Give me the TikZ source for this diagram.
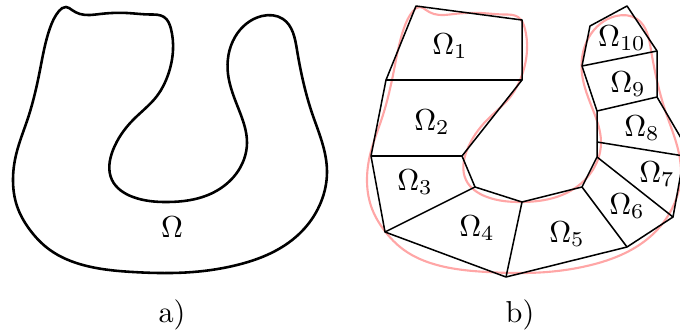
\documentclass[tikz,border=0pt]{standalone}
\usetikzlibrary{hobby}
\begin{document}
\begin{tikzpicture}[x=0.33pt,y=-0.33pt,
  blobline/.style={line width=0.85pt},
  pinkline/.style={line width=0.7pt,draw=red!35},
  edge/.style={line width=0.5pt,line join=round},
  lbl/.style={inner sep=0pt}]
\tikzset{blob/.pic={\draw[pic actions] plot[closed hobby] coordinates{
(66,7) (72,10) (80,14) (100,14) (127,13) (150,14.5) (164,17) (171,29) (173,50) (168,75) (157,96) (133,120) (113,150) (112,180) (133,197) (168,202) (208,195) (236,174) (247,143) (239,110) (228,74) (235,37) (262,16) (283,19) (297,50) (304,85) (312,113) (322,142) (327,172) (321,202) (304,229) (277,250) (237,265) (193,272) (160,273) (133,272) (83,265) (50,250) (30,230) (17,206) (13,180) (16,155) (28,118) (40,70) (50,28) (59,11)};}}
\useasboundingbox (0,0) rectangle (680,334);
\clip (0,0) rectangle (680,334);
% a)
\pic[blobline] at (0,0) {blob};
\node[lbl] (om) at (172,227) {$\Omega$};
\node[lbl] (la) at (172,315) {a)};
% b)
\pic[pinkline] at (354,0) {blob};
\coordinate (p1) at (416,6);
\coordinate (p2) at (522,20);
\coordinate (p3) at (522,80);
\coordinate (p4) at (386,80);
\coordinate (p5) at (462,156);
\coordinate (p6) at (371,156);
\coordinate (p7) at (475,187);
\coordinate (p8) at (385,232);
\coordinate (p9) at (522,202);
\coordinate (p10) at (506,277);
\coordinate (p11) at (582,187);
\coordinate (p12) at (627,247);
\coordinate (p13) at (597,157);
\coordinate (p14) at (673,217);
\coordinate (p15) at (597,142);
\coordinate (p16) at (684,156);
\coordinate (p17) at (597,111);
\coordinate (p18) at (657,97);
\coordinate (p19) at (582,66);
\coordinate (p20) at (657,51);
\coordinate (p21) at (590,26);
\coordinate (p22) at (627,6);
\coordinate (p23) at (688,150);
\draw[edge] (p4) -- (p1) -- (p2) -- (p3) -- (p4) -- (p6) -- (p8) -- (p10) -- (p12) -- (p14) -- (p16);
\draw[edge] (p3) -- (p5) -- (p6);
\draw[edge] (p5) -- (p7) -- (p9) -- (p11) -- (p13) -- (p15) -- (p17) -- (p19) -- (p21) -- (p22) -- (p20) -- (p18) -- (p23);
\draw[edge] (p7) -- (p8);
\draw[edge] (p9) -- (p10);
\draw[edge] (p11) -- (p12);
\draw[edge] (p13) -- (p14);
\draw[edge] (p15) -- (p16);
\draw[edge] (p17) -- (p18);
\draw[edge] (p19) -- (p20);
\node[lbl] (o1) at (450,46) {$\Omega_1$};
\node[lbl] (o2) at (432,122) {$\Omega_2$};
\node[lbl] (o3) at (415,182) {$\Omega_3$};
\node[lbl] (o4) at (477,228) {$\Omega_4$};
\node[lbl] (o5) at (567,234) {$\Omega_5$};
\node[lbl] (o6) at (627,206) {$\Omega_6$};
\node[lbl] (o7) at (657,174) {$\Omega_7$};
\node[lbl] (o8) at (642,128) {$\Omega_8$};
\node[lbl] (o9) at (628,84) {$\Omega_9$};
\node[lbl] (o10) at (622,38) {$\Omega_{10}$};
\node[lbl] (lb) at (520,315) {b)};
\end{tikzpicture}
\end{document}
